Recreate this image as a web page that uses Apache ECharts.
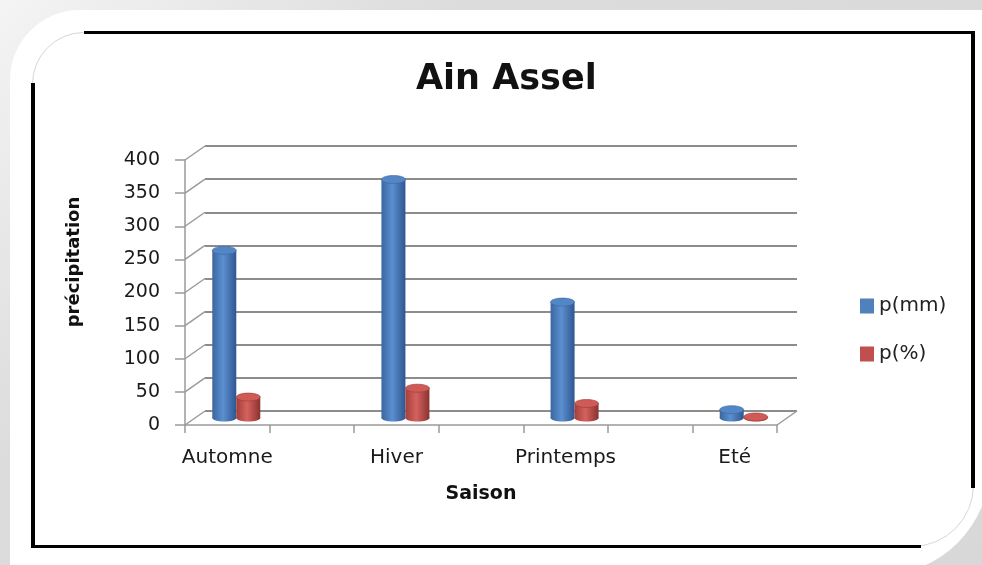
<!DOCTYPE html>
<html>
<head>
<meta charset="utf-8">
<script src="https://cdn.jsdelivr.net/npm/echarts@6/dist/echarts.min.js"></script>
<style>
  html, body { margin: 0; padding: 0; }
  body { width: 982px; height: 565px; position: relative; overflow: hidden;
         background: linear-gradient(135deg, #f4f4f4 0%, #dcdcdc 30%, #d8d8d8 100%); }
  .card { position: absolute; left: 10px; top: 10px; width: 980px; height: 565px; background: #fff;
          border-radius: 70px 0 110px 0; }
  .outline { position: absolute; left: 32px; top: 32px; width: 940px; height: 513px;
             border: 1px solid #d6d6d6; border-radius: 52px 0 62px 0; }
  .bk { position: absolute; background: #000; }
  #chart { position: absolute; left: 0; top: 0; width: 982px; height: 565px; }
</style>
</head>
<body>
<div class="card"></div>
<div class="outline"></div>
<div class="bk" style="left:84px;top:31px;width:891px;height:3px"></div>
<div class="bk" style="left:971px;top:31px;width:4px;height:457px"></div>
<div class="bk" style="left:31px;top:545px;width:890px;height:3px"></div>
<div class="bk" style="left:31px;top:83px;width:4px;height:465px"></div>
<div id="chart"></div>
<script>
// ---- data ----
const seasons = ['Automne', 'Hiver', 'Printemps', 'Eté'];
const pmm = [253, 360, 175, 12.5];
const ppct = [31.6, 45.0, 21.9, 1.6];
const yTicks = [0, 50, 100, 150, 200, 250, 300, 350, 400];
const seriesNames = ['p(mm)', 'p(%)'];
const titleText = 'Ain Assel';
const xName = 'Saison';
const yName = 'précipitation';

// Excel axis: each season occupies every other slot (blank slots between)
const slots = [];
const slotMm = [];
const slotPct = [];
seasons.forEach((s, i) => {
  slots.push(s); slotMm.push(pmm[i]); slotPct.push(ppct[i]);
  if (i < seasons.length - 1) { slots.push(''); slotMm.push(null); slotPct.push(null); }
});

const FONT = 'DejaVu Sans';
const chart = echarts.init(document.getElementById('chart'), null, { renderer: 'canvas' });

function grad(c1, c2, c3) {
  return { type: 'linear', x: 0, y: 0, x2: 1, y2: 0,
    colorStops: [{ offset: 0, color: c1 }, { offset: 0.45, color: c2 }, { offset: 1, color: c3 }] };
}
const blueBody = grad('#3a679f', '#5b8fd0', '#2f5690');
const redBody = grad('#a43e3b', '#d4625e', '#8a3230');
const blueTop = '#5286c6';
const redTop = '#cf5a56';

const BW = 24;
function capSeries(name, data, off, topColor, edgeColor, body) {
  return {
    type: 'custom', name: name, xAxisIndex: 2, yAxisIndex: 2, clip: false, z: 3,
    data: data.map((v, i) => v == null ? null : [i, v]).filter(d => d),
    renderItem: function (params, api) {
      const top = api.coord([api.value(0), api.value(1)]);
      const base = api.coord([api.value(0), 0]);
      const cx = top[0] + off;
      return { type: 'group', children: [
        { type: 'ellipse', shape: { cx: cx, cy: base[1], rx: BW / 2, ry: 3.5 }, style: { fill: body } },
        { type: 'ellipse', shape: { cx: cx, cy: top[1], rx: BW / 2, ry: 4 },
          style: { fill: topColor, stroke: edgeColor, lineWidth: 0.6 } }
      ]};
    }
  };
}

const option = {
  animation: false,
  textStyle: { fontFamily: FONT },
  title: {
    text: titleText, left: 411, top: 57,
    textStyle: { fontFamily: FONT, fontSize: 35, fontWeight: 'bold', color: '#111' }
  },
  legend: {
    orient: 'vertical', left: 855, top: 291, itemWidth: 14, itemHeight: 15, itemGap: 28,
    icon: 'rect',
    textStyle: { fontFamily: FONT, fontSize: 20, color: '#222' },
    data: [
      { name: seriesNames[0], itemStyle: { color: '#4f81bd' } },
      { name: seriesNames[1], itemStyle: { color: '#c0504d' } }
    ]
  },
  grid: [
    { left: 185, width: 592, top: 160, bottom: 140 },   // front (axes)
    { left: 205, width: 592, top: 146, bottom: 154 },   // back wall (gridlines)
    { left: 194, width: 592, top: 153, bottom: 147 }    // bars plane
  ],
  xAxis: [
    { type: 'category', gridIndex: 0, data: slots, boundaryGap: true,
      axisLine: { lineStyle: { color: '#9a9a9a', width: 1.5 } },
      axisTick: { show: true, length: 8, interval: 0, lineStyle: { color: '#9a9a9a', width: 1.5 } },
      axisLabel: { interval: 0, margin: 23, fontFamily: FONT, fontSize: 20, color: '#1a1a1a' },
      name: xName, nameLocation: 'middle', nameGap: 60,
      nameTextStyle: { fontFamily: FONT, fontSize: 19, fontWeight: 'bold', color: '#111' } },
    { type: 'category', gridIndex: 1, data: slots, show: false },
    { type: 'category', gridIndex: 2, data: slots, show: false }
  ],
  yAxis: [
    { type: 'value', gridIndex: 0, min: 0, max: 400, interval: 50,
      axisLine: { show: true, lineStyle: { color: '#9a9a9a', width: 1.5 } },
      axisTick: { show: true, length: 10, lineStyle: { color: '#9a9a9a', width: 1.5 } },
      axisLabel: { margin: 25, fontFamily: FONT, fontSize: 19, color: '#1a1a1a' },
      splitLine: { show: false } },
    { type: 'value', gridIndex: 1, min: 0, max: 400, interval: 50,
      axisLine: { show: false }, axisTick: { show: false }, axisLabel: { show: false },
      splitLine: { show: true, lineStyle: { color: '#8c8c8c', width: 2 } } },
    { type: 'value', gridIndex: 2, min: 0, max: 400, interval: 50, show: false,
      splitLine: { show: false } }
  ],
  graphic: [
    { type: 'text', x: 74, y: 262, rotation: Math.PI / 2,
      style: { text: yName, fontFamily: FONT, fontSize: 18, fontWeight: 'bold', fill: '#111',
               align: 'center', verticalAlign: 'middle' } }
  ],
  series: [
    // side-wall / floor diagonals, driven by the front axis scale
    { type: 'custom', name: 'walls', xAxisIndex: 0, yAxisIndex: 0, clip: false, silent: true, z: 1,
      data: yTicks.map(v => [0, v]),
      renderItem: function (params, api) {
        const p = api.coord([0, api.value(1)]);
        const w = api.size([1, 0])[0];
        const x0 = p[0] - w / 2;
        const kids = [{ type: 'line', shape: { x1: x0, y1: p[1], x2: x0 + 20, y2: p[1] - 14 },
                        style: { stroke: '#9a9a9a', lineWidth: 1.5 } }];
        if (api.value(1) === 0) {
          const xr = x0 + w * slots.length;
          kids.push({ type: 'line', shape: { x1: xr, y1: p[1], x2: xr + 20, y2: p[1] - 14 },
                      style: { stroke: '#9a9a9a', lineWidth: 1.5 } });
        }
        return { type: 'group', children: kids };
      } },
    { type: 'bar', name: seriesNames[0], xAxisIndex: 2, yAxisIndex: 2, data: slotMm,
      barWidth: BW, barGap: '0%', itemStyle: { color: blueBody } },
    { type: 'bar', name: seriesNames[1], xAxisIndex: 2, yAxisIndex: 2, data: slotPct,
      barWidth: BW, barGap: '0%', itemStyle: { color: redBody } },
    capSeries('capmm', slotMm, -BW / 2, blueTop, '#3a669e', blueBody),
    capSeries('cappct', slotPct, BW / 2, redTop, '#9a3936', redBody)
  ]
};
chart.setOption(option);
</script>
</body>
</html>
